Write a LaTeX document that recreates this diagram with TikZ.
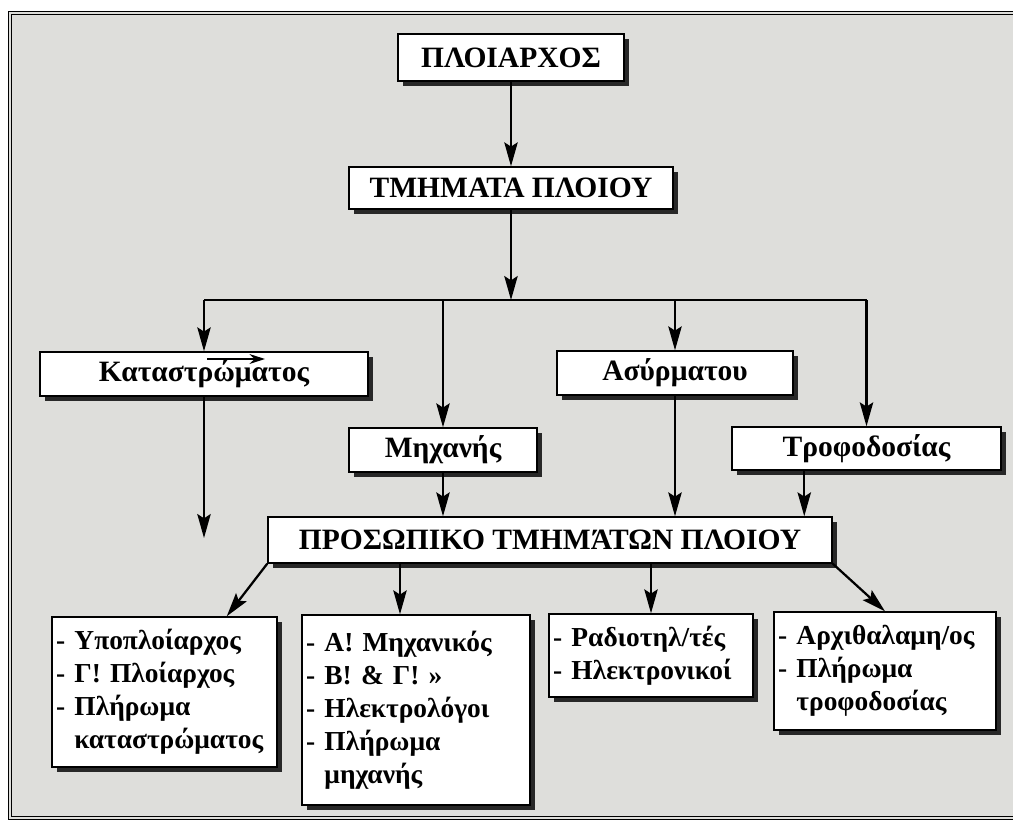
\documentclass[tikz,border=0pt]{standalone}
\usepackage{fontspec}
\setmainfont{Liberation Serif}
\usepackage{tikz}
\usetikzlibrary{calc}
\usetikzlibrary{shadows}
\usetikzlibrary{arrows.meta}

\definecolor{paper}{RGB}{222,222,219}
\definecolor{shade}{RGB}{40,40,40}

\begin{document}
\begin{tikzpicture}[x=0.025cm, y=-0.025cm,
  box/.style={draw, line width=1pt, fill=white, inner sep=0pt,
    drop shadow={shadow xshift=3.5pt, shadow yshift=-3.5pt, opacity=1, fill=shade},
    font=\bfseries\fontsize{21}{24}\selectfont},
  list/.style={box, align=left, inner xsep=3pt, font=\bfseries\fontsize{19.5}{23.5}\selectfont},
  arr/.style={line width=1.6pt, -{Stealth[length=17pt, width=9.5pt, inset=3pt]}}]
\useasboundingbox (0,0) rectangle (1013,823);
\fill[paper] (10,13) rectangle (1013,818);
\draw[line width=0.7pt, double=paper, double distance=1.3pt] (1013,13) -- (10,13) -- (10,818) -- (1013,818);

\node[box, minimum width=5.65cm, minimum height=1.175cm] (kap) at (511,57.5) {ΠΛΟΙΑΡΧΟΣ};
\node[box, minimum width=8.1cm, minimum height=1.05cm] (tmim) at (511,188) {ΤΜΗΜΑΤΑ ΠΛΟΙΟΥ};
\node[box, minimum width=8.2cm, minimum height=1.1cm] (kat) at (204,374) {Καταστρώματος};
\node[box, minimum width=4.7cm, minimum height=1.1cm] (mix) at (443,450) {Μηχανής};
\node[box, minimum width=5.9cm, minimum height=1.1cm] (asy) at (675,373) {Ασύρματου};
\node[box, minimum width=6.725cm, minimum height=1.075cm] (tro) at (866.5,448.5) {Τροφοδοσίας};
\node[box, minimum width=14.1cm, minimum height=1.15cm] (pros) at (550,540) {ΠΡΟΣΩΠΙΚΟ ΤΜΗΜΆΤΩΝ ΠΛΟΙΟΥ};

\node[list, text width=5.625cm-6pt, minimum height=3.75cm] (ypo) at (164.5,692)
  {- Υποπλοίαρχος\\- Γ! Πλοίαρχος\\- Πλήρωμα\\\phantom{- }καταστρώματος};
\node[list, text width=5.7cm-6pt, minimum height=4.75cm] (mich) at (416,710)
  {- Α! Μηχανικός\\- Β! \& Γ! »\\- Ηλεκτρολόγοι\\- Πλήρωμα\\\phantom{- }μηχανής};
\node[list, text width=5.1cm-6pt, minimum height=2.075cm] (rad) at (651,655.5)
  {- Ραδιοτηλ/τές\\- Ηλεκτρονικοί};
\node[list, text width=5.55cm-6pt, minimum height=2.95cm] (arx) at (885,671)
  {- Αρχιθαλαμη/ος\\- Πλήρωμα\\\phantom{- }τροφοδοσίας};

\coordinate (bar) at (511,300);
\coordinate (katend) at (204,538);
\coordinate (trofoot) at ($(tro.south west)+(73,0)$);
\coordinate (michtop) at ($(mich.north)+(-16,0)$);
\coordinate (ypotop) at ($(ypo.north east)+(-51,0)$);
\coordinate (katmark) at (207,359);
\coordinate (katmarkend) at (265,359);

\draw[arr] (kap) -- (tmim);
\draw[arr] (tmim) -- (bar);
\draw[line width=1.6pt] (kat.north |- bar) -- (tro.north |- bar);
\draw[arr] (kat.north |- bar) -- (kat);
\draw[arr] (mix.north |- bar) -- (mix);
\draw[arr] (asy.north |- bar) -- (asy);
\draw[arr] (tro.north |- bar) -- (tro);

\draw[arr] (kat) -- (katend);
\draw[arr] (mix) -- (mix |- pros.north);
\draw[arr] (asy) -- (asy |- pros.north);
\draw[arr] (trofoot) -- (trofoot |- pros.north);

\draw[arr] (pros.south west) -- (ypotop);
\draw[arr] (michtop |- pros.south) -- (michtop);
\draw[arr] (rad |- pros.south) -- (rad);
\draw[arr] (pros.south east) -- (arx.north);

\draw[line width=1.2pt, -{Stealth[length=11pt, width=7pt]}] (katmark) -- (katmarkend);
\end{tikzpicture}
\end{document}
